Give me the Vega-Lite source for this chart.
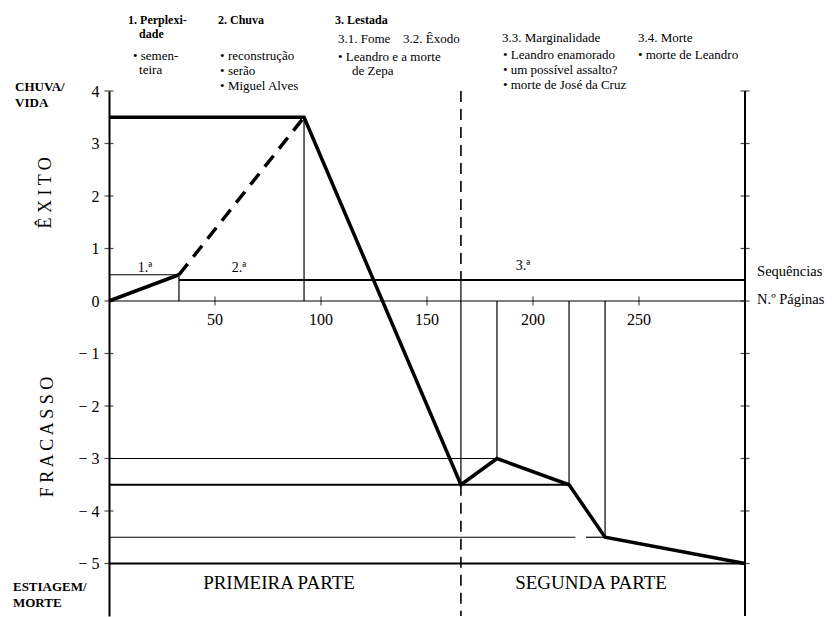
{
  "$schema": "https://vega.github.io/schema/vega-lite/v6.json",
  "width": 636,
  "height": 525,
  "autosize": {"type": "none"},
  "padding": {"left": 109, "top": 91, "right": 92, "bottom": 1},
  "background": "white",
  "config": {"view": {"stroke": null}, "font": "Liberation Serif, DejaVu Serif, serif", "text": {"color": "black", "font": "Liberation Serif, DejaVu Serif, serif"}},
  "datasets": {
    "thin": [
      {"x": 33, "y": 0, "x2": 33, "y2": 0.5},
      {"x": 92, "y": 0, "x2": 92, "y2": 3.5},
      {"x": 0, "y": 0.5, "x2": 33, "y2": 0.5},
      {"x": 166, "y": 0.4, "x2": 166, "y2": -3.5},
      {"x": 183, "y": 0, "x2": 183, "y2": -3},
      {"x": 217, "y": 0, "x2": 217, "y2": -3.5},
      {"x": 234, "y": 0, "x2": 234, "y2": -4.5},
      {"x": 0, "y": -3, "x2": 183, "y2": -3},
      {"x": 0, "y": -4.5, "x2": 220, "y2": -4.5},
      {"x": 225, "y": -4.5, "x2": 234, "y2": -4.5},
      {"x": 0, "y": 0, "x2": 300, "y2": 0}
    ],
    "medium": [
      {"x": 33, "y": 0.4, "x2": 300, "y2": 0.4},
      {"x": 0, "y": -3.5, "x2": 217, "y2": -3.5},
      {"x": 0, "y": -5, "x2": 300, "y2": -5},
      {"x": 300, "y": -6, "x2": 300, "y2": 4}
    ],
    "dashedv": [
      {"x": 166, "y": 4, "x2": 166, "y2": 0.4},
      {"x": 166, "y": -3.5, "x2": 166, "y2": -6}
    ],
    "curve": [
      {"x": 0, "y": 0, "seg": "a"},
      {"x": 33, "y": 0.5, "seg": "a"},
      {"x": 0, "y": 3.5, "seg": "b"},
      {"x": 92, "y": 3.5, "seg": "b"},
      {"x": 166, "y": -3.5, "seg": "b"},
      {"x": 183, "y": -3, "seg": "b"},
      {"x": 217, "y": -3.5, "seg": "b"},
      {"x": 234, "y": -4.5, "seg": "b"},
      {"x": 300, "y": -5, "seg": "b"}
    ],
    "curveDash": [
      {"x": 33, "y": 0.5},
      {"x": 92, "y": 3.5}
    ],
    "yticks": [
      {"x": 0, "y": -5}, {"x": 0, "y": -4}, {"x": 0, "y": -3}, {"x": 0, "y": -2}, {"x": 0, "y": -1},
      {"x": 0, "y": 0}, {"x": 0, "y": 1}, {"x": 0, "y": 2}, {"x": 0, "y": 3}, {"x": 0, "y": 4},
      {"x": 300, "y": -5}, {"x": 300, "y": -4}, {"x": 300, "y": -3}, {"x": 300, "y": -2}, {"x": 300, "y": -1},
      {"x": 300, "y": 0}, {"x": 300, "y": 1}, {"x": 300, "y": 2}, {"x": 300, "y": 3}, {"x": 300, "y": 4}
    ],
    "xticks": [
      {"x": 50, "y": 0}, {"x": 100, "y": 0}, {"x": 150, "y": 0},
      {"x": 200, "y": 0}, {"x": 250, "y": 0}
    ],
    "xlabels": [
      {"x": 50, "y": -0.36, "t": "50"}, {"x": 100, "y": -0.36, "t": "100"}, {"x": 150, "y": -0.36, "t": "150"},
      {"x": 200, "y": -0.36, "t": "200"}, {"x": 250, "y": -0.36, "t": "250"}
    ],
    "headBold": [
      {"x": 9.0, "y": 5.35, "t": "1. Perplexi-"},
      {"x": 14.2, "y": 5.08, "t": "dade"},
      {"x": 51.4, "y": 5.35, "t": "2. Chuva"},
      {"x": 106.6, "y": 5.35, "t": "3. Lestada"}
    ],
    "headReg": [
      {"x": 11.3, "y": 4.67, "t": "• semen-"},
      {"x": 14.2, "y": 4.40, "t": "teira"},
      {"x": 52.4, "y": 4.67, "t": "• reconstrução"},
      {"x": 52.4, "y": 4.39, "t": "• serão"},
      {"x": 52.4, "y": 4.10, "t": "• Miguel Alves"},
      {"x": 108.0, "y": 4.99, "t": "3.1. Fome"},
      {"x": 138.7, "y": 4.99, "t": "3.2. Êxodo"},
      {"x": 108.0, "y": 4.65, "t": "• Leandro e a morte"},
      {"x": 114.6, "y": 4.38, "t": "de Zepa"},
      {"x": 185.4, "y": 5.01, "t": "3.3. Marginalidade"},
      {"x": 185.8, "y": 4.69, "t": "• Leandro enamorado"},
      {"x": 185.8, "y": 4.40, "t": "• um possível assalto?"},
      {"x": 185.8, "y": 4.11, "t": "• morte de José da Cruz"},
      {"x": 249.5, "y": 5.01, "t": "3.4. Morte"},
      {"x": 249.5, "y": 4.69, "t": "• morte de Leandro"}
    ],
    "sideBold": [
      {"x": -44.3, "y": 4.07, "t": "CHUVA/"},
      {"x": -44.3, "y": 3.77, "t": "VIDA"},
      {"x": -45.3, "y": -5.45, "t": "ESTIAGEM/"},
      {"x": -45.3, "y": -5.75, "t": "MORTE"}
    ],
    "sideRot": [
      {"x": -29.7, "y": 2.06, "t": "Ê X I T O"},
      {"x": -28.8, "y": -2.59, "t": "F R A C A S S O"}
    ],
    "parts": [
      {"x": 80.2, "y": -5.37, "t": "PRIMEIRA PARTE"},
      {"x": 227.4, "y": -5.37, "t": "SEGUNDA PARTE"}
    ],
    "right": [
      {"x": 305.7, "y": 0.55, "t": "Sequências"},
      {"x": 305.7, "y": 0.02, "t": "N.º Páginas"}
    ],
    "seqs": [
      {"x": 17, "y": 0.63, "t": "1.ª"},
      {"x": 61.3, "y": 0.63, "t": "2.ª"},
      {"x": 195.3, "y": 0.67, "t": "3.ª"}
    ]
  },
  "encoding": {
    "x": {"field": "x", "type": "quantitative", "scale": {"domain": [0, 300], "nice": false, "zero": false}, "axis": null},
    "y": {
      "field": "y", "type": "quantitative", "scale": {"domain": [-6, 4], "nice": false, "zero": false},
      "axis": {
        "orient": "left", "values": [-5, -4, -3, -2, -1, 0, 1, 2, 3, 4], "title": null, "grid": false,
        "ticks": false, "labelPadding": 10, "labelFontSize": 16, "labelFont": "Liberation Serif, DejaVu Serif, serif",
        "labelColor": "black", "domainColor": "black", "domainWidth": 2,
        "labelExpr": "datum.value < 0 ? '− ' + (-datum.value) : datum.label"
      }
    }
  },
  "layer": [
    {
      "data": {"name": "yticks"},
      "mark": {"type": "tick", "orient": "horizontal", "size": 9, "thickness": 1.2, "color": "black"}
    },
    {
      "data": {"name": "xticks"},
      "mark": {"type": "tick", "orient": "vertical", "size": 9, "thickness": 1.2, "color": "black"}
    },
    {
      "data": {"name": "thin"},
      "mark": {"type": "rule", "strokeWidth": 1.2, "color": "black"},
      "encoding": {"x2": {"field": "x2"}, "y2": {"field": "y2"}}
    },
    {
      "data": {"name": "medium"},
      "mark": {"type": "rule", "strokeWidth": 2, "color": "black"},
      "encoding": {"x2": {"field": "x2"}, "y2": {"field": "y2"}}
    },
    {
      "data": {"name": "dashedv"},
      "mark": {"type": "rule", "strokeWidth": 1.6, "color": "black", "strokeDash": [11, 7]},
      "encoding": {"x2": {"field": "x2"}, "y2": {"field": "y2"}}
    },
    {
      "data": {"name": "curve"},
      "mark": {"type": "line", "strokeWidth": 3.5, "color": "black", "strokeJoin": "miter"},
      "encoding": {"detail": {"field": "seg"}}
    },
    {
      "data": {"name": "curveDash"},
      "mark": {"type": "line", "strokeWidth": 3.5, "color": "black", "strokeDash": [14, 9]}
    },
    {
      "data": {"name": "xlabels"},
      "mark": {"type": "text", "fontSize": 16, "align": "center", "baseline": "middle", "font": "Liberation Serif, DejaVu Serif, serif"},
      "encoding": {"text": {"field": "t"}}
    },
    {
      "data": {"name": "headBold"},
      "mark": {"type": "text", "fontSize": 12, "fontWeight": "bold", "align": "left", "baseline": "middle", "font": "Liberation Serif, DejaVu Serif, serif"},
      "encoding": {"text": {"field": "t"}}
    },
    {
      "data": {"name": "headReg"},
      "mark": {"type": "text", "fontSize": 13, "align": "left", "baseline": "middle", "font": "Liberation Serif, DejaVu Serif, serif"},
      "encoding": {"text": {"field": "t"}}
    },
    {
      "data": {"name": "sideBold"},
      "mark": {"type": "text", "fontSize": 13, "fontWeight": "bold", "align": "left", "baseline": "middle", "font": "Liberation Serif, DejaVu Serif, serif"},
      "encoding": {"text": {"field": "t"}}
    },
    {
      "data": {"name": "sideRot"},
      "mark": {"type": "text", "fontSize": 18, "angle": 270, "align": "center", "baseline": "middle", "font": "Liberation Serif, DejaVu Serif, serif"},
      "encoding": {"text": {"field": "t"}}
    },
    {
      "data": {"name": "parts"},
      "mark": {"type": "text", "fontSize": 19, "align": "center", "baseline": "middle", "font": "Liberation Serif, DejaVu Serif, serif"},
      "encoding": {"text": {"field": "t"}}
    },
    {
      "data": {"name": "right"},
      "mark": {"type": "text", "fontSize": 14.5, "align": "left", "baseline": "middle", "font": "Liberation Serif, DejaVu Serif, serif"},
      "encoding": {"text": {"field": "t"}}
    },
    {
      "data": {"name": "seqs"},
      "mark": {"type": "text", "fontSize": 14, "align": "center", "baseline": "middle", "font": "Liberation Serif, DejaVu Serif, serif"},
      "encoding": {"text": {"field": "t"}}
    }
  ]
}
